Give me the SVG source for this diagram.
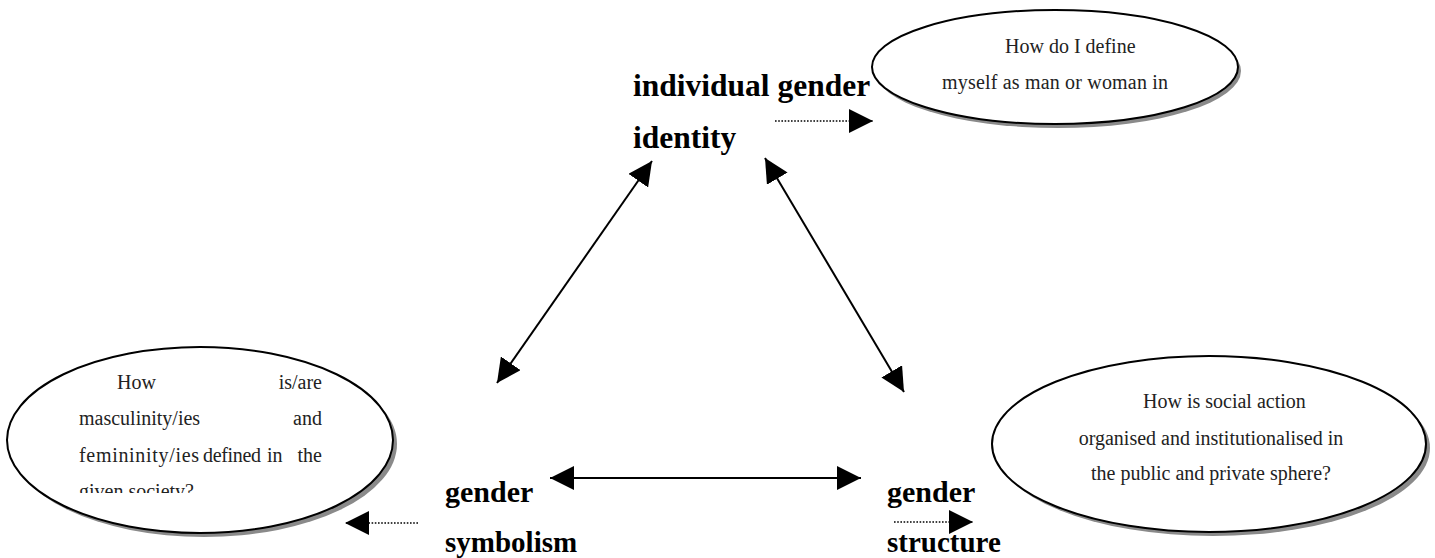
<svg xmlns="http://www.w3.org/2000/svg" width="1435" height="558" viewBox="0 0 1435 558">
<style>
.lbl{font-family:"Liberation Serif","Times New Roman",serif;font-weight:bold;font-size:30px;fill:#000}
.big{font-size:31.5px}
.sm{font-size:29px}
.q{font-family:"Liberation Serif","Times New Roman",serif;font-size:20px;fill:#222}
.ell{fill:#fff;stroke:#000;stroke-width:2}
.sh{fill:#8a8a8a;stroke:none}
.solid{stroke:#000;stroke-width:2;fill:none}
.dot{stroke:#000;stroke-width:1.6;stroke-dasharray:1.6 1.6;fill:none}
</style>
<defs>
<marker id="ah" markerUnits="userSpaceOnUse" markerWidth="24" markerHeight="24" viewBox="0 0 22 22" refX="22" refY="11" orient="auto-start-reverse">
<path d="M0,0 L22,11 L0,22 Z" fill="#000"/>
</marker>
<clipPath id="clipL"><rect x="0" y="340" width="400" height="153"/></clipPath>
</defs>
<rect width="1435" height="558" fill="#fff"/>

<g id="node-identity">
<text class="lbl big" x="633" y="96">individual gender</text>
<text class="lbl big" x="633" y="148">identity</text>
</g>
<g id="node-symbolism">
<text class="lbl" x="445" y="502">gender</text>
<text class="lbl sm" x="445" y="552">symbolism</text>
</g>
<g id="node-structure">
<text class="lbl" x="887" y="502">gender</text>
<text class="lbl sm" x="887" y="552">structure</text>
</g>

<g id="bubble-identity">
<ellipse class="sh" cx="1058" cy="71" rx="183" ry="57"/>
<ellipse class="ell" cx="1055" cy="67" rx="183" ry="57"/>
<text class="q" x="1005" y="53">How do I define</text>
<text class="q" x="942" y="89" textLength="226">myself as man or woman in</text>
</g>

<g id="bubble-symbolism">
<ellipse class="sh" cx="204" cy="444" rx="193" ry="93"/>
<ellipse class="ell" cx="200" cy="440" rx="193" ry="93"/>
<g clip-path="url(#clipL)">
<text class="q" x="117" y="389">How</text>
<text class="q" x="322" y="389" text-anchor="end">is/are</text>
<text class="q" x="79" y="425">masculinity/ies</text>
<text class="q" x="322" y="425" text-anchor="end">and</text>
<text class="q" x="79" y="462" textLength="120">femininity/ies</text>
<text class="q" x="203" y="462" textLength="58">defined</text>
<text class="q" x="267" y="462">in</text>
<text class="q" x="322" y="462" text-anchor="end">the</text>
<text class="q" x="79" y="498">given society?</text>
</g>
</g>

<g id="bubble-structure">
<ellipse class="sh" cx="1213" cy="448" rx="217" ry="88"/>
<ellipse class="ell" cx="1209" cy="444" rx="217" ry="88"/>
<text class="q" x="1143" y="408">How is social action</text>
<text class="q" x="1211" y="445" text-anchor="middle">organised and institutionalised in</text>
<text class="q" x="1211" y="480" text-anchor="middle">the public and private sphere?</text>
</g>

<g id="connectors">
<line class="solid" x1="652" y1="161" x2="497" y2="383" marker-start="url(#ah)" marker-end="url(#ah)"/>
<line class="solid" x1="765" y1="158" x2="904" y2="392" marker-start="url(#ah)" marker-end="url(#ah)"/>
<line class="solid" x1="550" y1="478" x2="861" y2="478" marker-start="url(#ah)" marker-end="url(#ah)"/>
<line class="dot" x1="775" y1="121" x2="873" y2="121" marker-end="url(#ah)"/>
<line class="dot" x1="418" y1="523" x2="345" y2="523" marker-end="url(#ah)"/>
<line class="dot" x1="894" y1="522" x2="973" y2="522" marker-end="url(#ah)"/>
</g>
</svg>
